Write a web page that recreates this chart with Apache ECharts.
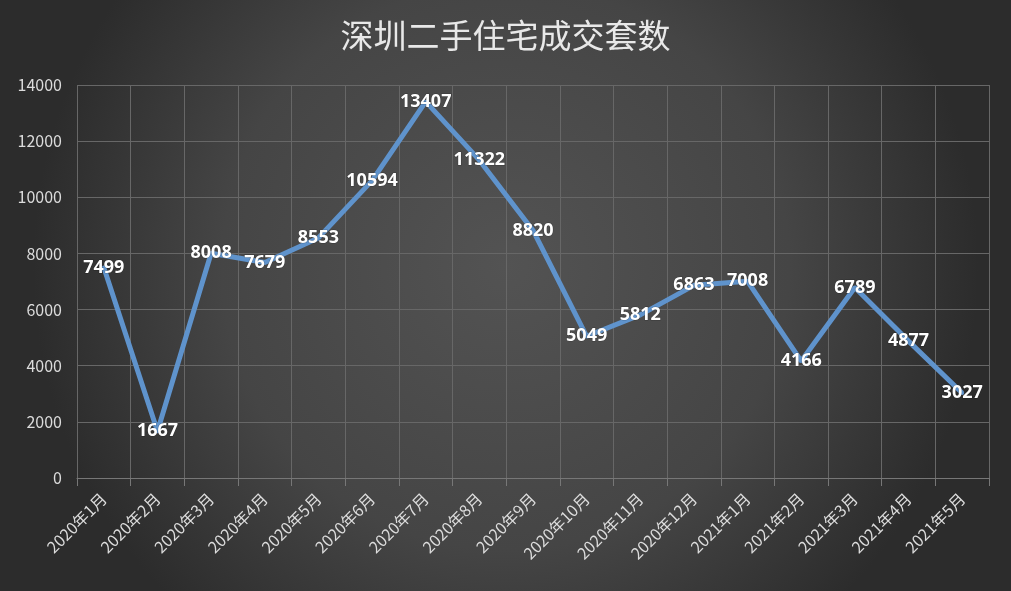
<!DOCTYPE html>
<html><head><meta charset="utf-8">
<script src="https://cdn.jsdelivr.net/npm/echarts@6/dist/echarts.min.js"></script>
<style>html,body{margin:0;padding:0;background:#333;}#c{width:1011px;height:591px;}</style>
</head><body><div id="c"></div>
<script>
const categories = ['2020年1月','2020年2月','2020年3月','2020年4月','2020年5月','2020年6月','2020年7月','2020年8月','2020年9月','2020年10月','2020年11月','2020年12月','2021年1月','2021年2月','2021年3月','2021年4月','2021年5月'];
const values = [7499,1667,8008,7679,8553,10594,13407,11322,8820,5049,5812,6863,7008,4166,6789,4877,3027];
const titleText = '深圳二手住宅成交套数';
const chart = echarts.init(document.getElementById('c'));
chart.setOption({
  backgroundColor: {type:'radial', x:0.5, y:0.45, r:0.8, colorStops:[{offset:0,color:'#535353'},{offset:0.6,color:'#454545'},{offset:1,color:'#2c2c2c'}]},
  animation:false,
  title:{text:titleText, left:'center', top:14, textStyle:{color:'#e8e8e8', fontSize:33, fontWeight:'normal', fontFamily:'Noto Sans CJK SC'}},
  grid:{left:77, right:22, top:85, bottom:113},
  xAxis:{type:'category', data:categories, boundaryGap:true,
    axisLine:{lineStyle:{color:'#777', width:1}},
    axisTick:{show:true, length:8, lineStyle:{color:'#777'}},
    splitLine:{show:true, lineStyle:{color:'#676767', width:1}},
    axisLabel:{rotate:45, interval:0, color:'#dcdcdc', fontSize:16, fontFamily:'Noto Sans CJK SC', margin:18}},
  yAxis:{type:'value', min:0, max:14000, interval:2000,
    axisLine:{show:false}, axisTick:{show:false},
    splitLine:{lineStyle:{color:'#676767', width:1}},
    axisLabel:{color:'#dcdcdc', fontSize:16, fontFamily:'Noto Sans CJK SC', margin:15, formatter:v=>String(v)}},
  series:[{type:'line', data:values, symbol:'circle', symbolSize:4, showSymbol:true, showAllSymbol:true,
    itemStyle:{color:'#5f93cc'},
    lineStyle:{color:'#5f93cc', width:5},
    label:{show:true, position:'inside', color:'#ffffff', fontSize:18, fontWeight:'bold', fontFamily:'Noto Sans', textBorderColor:'rgba(0,0,0,0.25)', textBorderWidth:1}}]
});
</script></body></html>
